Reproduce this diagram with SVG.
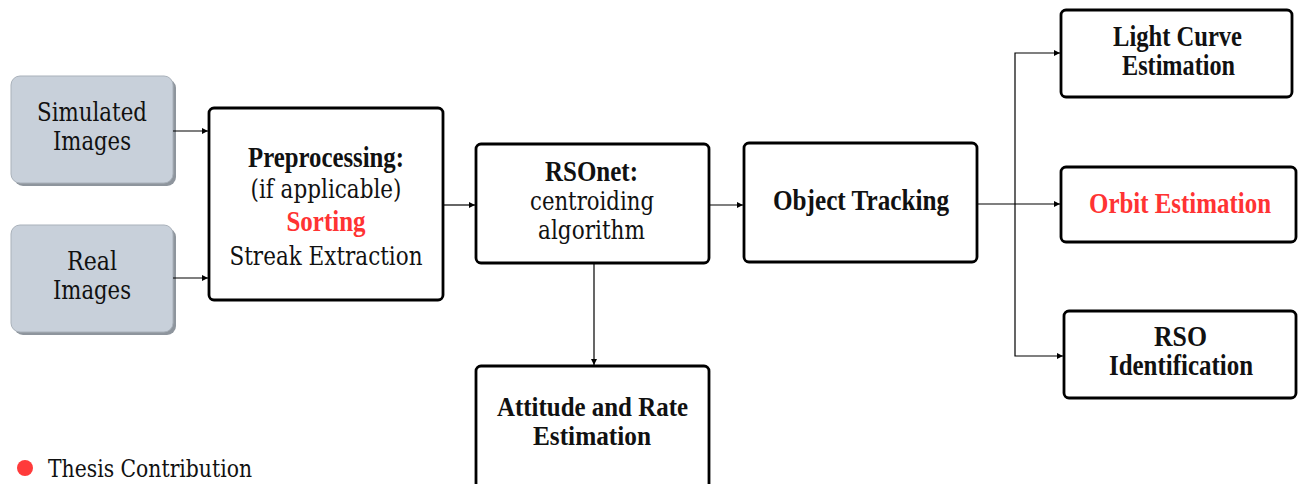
<svg xmlns="http://www.w3.org/2000/svg" width="1299" height="484" viewBox="0 0 1299 484">
  <style>
    .src { fill: #c8d0da; stroke: #a9b1ba; stroke-width: 1; }
    .shadow { fill: #8e959d; }
    .box { fill: #ffffff; stroke: #000000; stroke-width: 2.8; }
    .t { font-family: "DejaVu Serif", serif; font-size: 26px; font-weight: 400; fill: #111; text-anchor: middle; }
    .b { font-family: "Liberation Serif", "Times New Roman", serif; font-weight: 700; font-size: 29px; }
    .b2 { font-size: 27px; }
    .red { fill: #ff3333; }
    .wire { fill: none; stroke: #000; stroke-width: 1.2; }
  </style>
  <defs>
    <marker id="arrow" viewBox="0 0 6 6" refX="6" refY="3" markerWidth="6" markerHeight="6" markerUnits="userSpaceOnUse" orient="auto">
      <path d="M0,0 L6,3 L0,6 Z" fill="#000"/>
    </marker>
  </defs>
  <rect width="1299" height="484" fill="#ffffff"/>

  <!-- input sources -->
  <g id="simulated-images">
    <rect class="shadow" x="14" y="79" width="162" height="107" rx="9"/>
    <rect class="src" x="11" y="76" width="162" height="107" rx="9"/>
    <text class="t" x="92" y="121" textLength="110" lengthAdjust="spacingAndGlyphs">Simulated</text>
    <text class="t" x="92" y="150" textLength="78" lengthAdjust="spacingAndGlyphs">Images</text>
  </g>
  <g id="real-images">
    <rect class="shadow" x="14" y="228" width="162" height="107" rx="9"/>
    <rect class="src" x="11" y="225" width="162" height="107" rx="9"/>
    <text class="t" x="92" y="270" textLength="50" lengthAdjust="spacingAndGlyphs">Real</text>
    <text class="t" x="92" y="299" textLength="78" lengthAdjust="spacingAndGlyphs">Images</text>
  </g>

  <!-- processing chain -->
  <g id="preprocessing">
    <rect class="box" x="209" y="108" width="234" height="192" rx="5"/>
    <text class="t b" x="326" y="167" textLength="156" lengthAdjust="spacingAndGlyphs">Preprocessing:</text>
    <text class="t" x="326" y="198" textLength="151" lengthAdjust="spacingAndGlyphs">(if applicable)</text>
    <text class="t b red" x="326" y="231" textLength="79" lengthAdjust="spacingAndGlyphs">Sorting</text>
    <text class="t" x="326" y="265" textLength="193" lengthAdjust="spacingAndGlyphs">Streak Extraction</text>
  </g>
  <g id="rsonet">
    <rect class="box" x="476" y="144" width="233" height="119" rx="5"/>
    <text class="t b" x="591.5" y="181" textLength="93" lengthAdjust="spacingAndGlyphs">RSOnet:</text>
    <text class="t" x="592" y="210" textLength="124" lengthAdjust="spacingAndGlyphs">centroiding</text>
    <text class="t" x="591.5" y="239" textLength="107" lengthAdjust="spacingAndGlyphs">algorithm</text>
  </g>
  <g id="object-tracking">
    <rect class="box" x="744" y="143" width="233" height="119" rx="5"/>
    <text class="t b" x="861" y="210" textLength="176" lengthAdjust="spacingAndGlyphs">Object Tracking</text>
  </g>
  <g id="attitude-rate">
    <rect class="box" x="476" y="366" width="233" height="125" rx="5"/>
    <text class="t b b2" x="592.5" y="416" textLength="191" lengthAdjust="spacingAndGlyphs">Attitude and Rate</text>
    <text class="t b b2" x="592" y="445" textLength="118" lengthAdjust="spacingAndGlyphs">Estimation</text>
  </g>

  <!-- outputs -->
  <g id="light-curve">
    <rect class="box" x="1061" y="10" width="231" height="87" rx="5"/>
    <text class="t b" x="1177.5" y="46" textLength="129" lengthAdjust="spacingAndGlyphs">Light Curve</text>
    <text class="t b" x="1178.5" y="75" textLength="113" lengthAdjust="spacingAndGlyphs">Estimation</text>
  </g>
  <g id="orbit-estimation">
    <rect class="box" x="1061" y="167" width="235" height="75" rx="5"/>
    <text class="t b red" x="1180" y="213" textLength="182" lengthAdjust="spacingAndGlyphs">Orbit Estimation</text>
  </g>
  <g id="rso-identification">
    <rect class="box" x="1064" y="311" width="232" height="87" rx="5"/>
    <text class="t b" x="1180.5" y="346" textLength="53" lengthAdjust="spacingAndGlyphs">RSO</text>
    <text class="t b" x="1181" y="375" textLength="144" lengthAdjust="spacingAndGlyphs">Identification</text>
  </g>

  <!-- connectors -->
  <g id="connectors">
    <path class="wire" d="M173,131 H208" marker-end="url(#arrow)"/>
    <path class="wire" d="M173,278 H208" marker-end="url(#arrow)"/>
    <path class="wire" d="M443,205 H475" marker-end="url(#arrow)"/>
    <path class="wire" d="M709,205 H743" marker-end="url(#arrow)"/>
    <path class="wire" d="M594,263 V365" marker-end="url(#arrow)"/>
    <path class="wire" d="M977,204 H1060" marker-end="url(#arrow)"/>
    <path class="wire" d="M1015,204 V53 H1060" marker-end="url(#arrow)"/>
    <path class="wire" d="M1015,204 V356 H1063" marker-end="url(#arrow)"/>
  </g>

  <!-- legend -->
  <g id="legend">
    <circle cx="25" cy="468" r="8" fill="#ff3b3b"/>
    <text class="t" x="150" y="477" style="font-size:24px" textLength="204" lengthAdjust="spacingAndGlyphs">Thesis Contribution</text>
  </g>
</svg>
